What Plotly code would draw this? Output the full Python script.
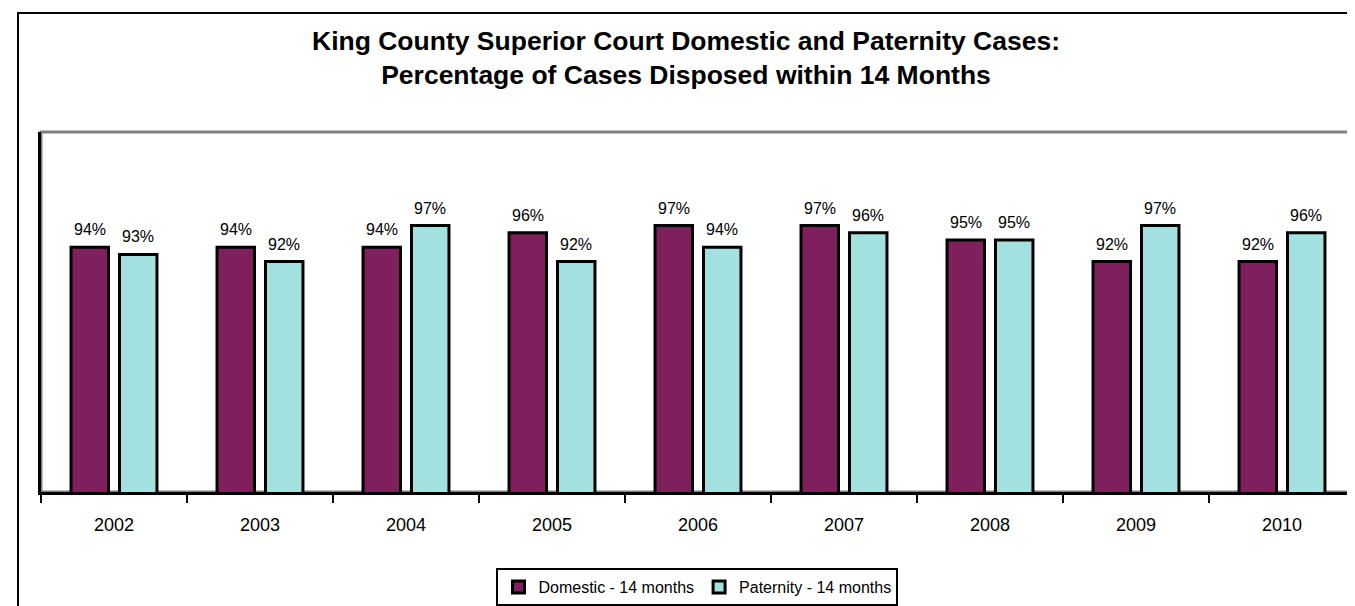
import plotly.graph_objects as go

years = ["2002", "2003", "2004", "2005", "2006", "2007", "2008", "2009", "2010"]
domestic = [94, 94, 94, 96, 97, 97, 95, 92, 92]
paternity = [93, 92, 97, 92, 94, 96, 95, 97, 96]
series_names = ["Domestic - 14 months", "Paternity - 14 months"]
title_lines = ["King County Superior Court Domestic and Paternity Cases:",
               "Percentage of Cases Disposed within 14 Months"]

W, H = 1355, 606
ML, MR, MT, MB = 33, 8, 124, 122
plot_w = W - ML - MR
plot_h = H - MT - MB
BARGAP = 0.336
BARGROUPGAP = 0.227
FONT = "Liberation Sans, Arial, sans-serif"


def px_x(px):
    return (px - ML) / plot_w


def px_y(py):
    return (H - MB - py) / plot_h


fig = go.Figure()
colors = ["#7F1F5B", "#A3E0E0"]
for name, vals, col in zip(series_names, [domestic, paternity], colors):
    fig.add_trace(go.Bar(
        x=years, y=vals, name=name,
        marker=dict(color=col, line=dict(color="black", width=3)),
        hoverinfo="x+y",
    ))

# value labels above bars (category index positions)
cat_px = plot_w / len(years)
off = (1 - BARGAP) * cat_px / 4
annotations = []
for si, vals in enumerate([domestic, paternity]):
    shift = -off if si == 0 else off
    for i, v in enumerate(vals):
        annotations.append(dict(
            x=i, y=v, xref="x", yref="y", text=f"{v}%", showarrow=False,
            xanchor="center", yanchor="bottom", xshift=shift, yshift=7,
            font=dict(family=FONT, size=16, color="black")))

# title
annotations.append(dict(
    x=px_x(W / 2), xref="paper", y=px_y(49.5), yref="paper",
    xanchor="center", yanchor="middle",
    text="<br>".join(title_lines), showarrow=False,
    font=dict(family=FONT, size=26.5, color="black", weight="bold")))

shapes = [
    dict(type="rect", xref="paper", yref="paper", x0=0, x1=1, y0=0, y1=1,
         line=dict(color="#808080", width=3), layer="below"),
    dict(type="rect", xref="paper", yref="paper",
         x0=px_x(10), x1=px_x(1370), y0=px_y(620), y1=px_y(5),
         line=dict(color="black", width=2), layer="below"),
]

fig.update_layout(
    width=W, height=H,
    margin=dict(l=ML, r=MR, t=MT, b=MB, pad=0),
    paper_bgcolor="white", plot_bgcolor="white",
    barmode="group", bargap=BARGAP, bargroupgap=BARGROUPGAP,
    showlegend=True,
    legend=dict(orientation="h", x=0.4996, xanchor="center", y=px_y(560), yanchor="top",
                bgcolor="white", bordercolor="black", borderwidth=2,
                font=dict(family=FONT, size=16, color="black"),
                itemclick=False, itemdoubleclick=False),
    annotations=annotations,
    shapes=shapes,
    font=dict(family=FONT, color="black"),
)
fig.update_xaxes(type="category", range=[-0.5, len(years) - 0.5], autorange=False,
                 showline=True, linecolor="black", linewidth=3,
                 ticks="outside", tickson="boundaries", ticklen=8, tickwidth=2,
                 tickcolor="black", showgrid=False, zeroline=False,
                 ticklabelstandoff=14, tickangle=0,
                 tickfont=dict(family=FONT, size=18, color="black"))
fig.update_yaxes(range=[60, 110], autorange=False, showline=True, linecolor="black", linewidth=3,
                 showticklabels=False, ticks="", showgrid=False, zeroline=False)

fig.write_html("out.html")
